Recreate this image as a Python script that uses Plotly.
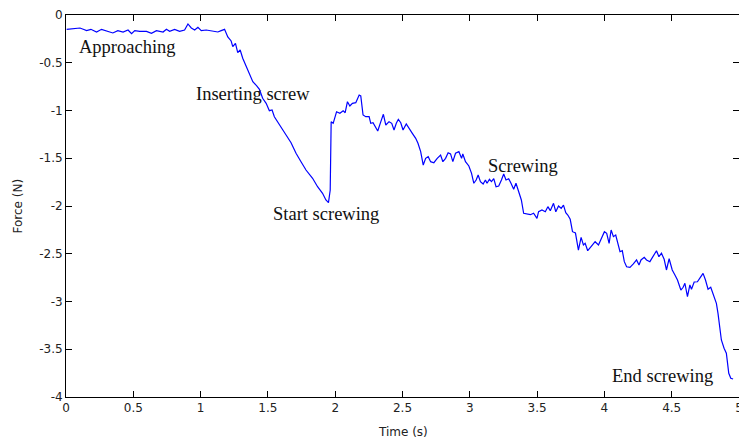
import plotly.graph_objects as go

# Force measured during the screw insertion task
time_s = [
    0.005, 0.044, 0.104, 0.133, 0.153, 0.185, 0.227, 0.264, 0.301, 0.348,
    0.385, 0.424, 0.461, 0.487, 0.511, 0.548, 0.598, 0.635, 0.672, 0.721,
    0.746, 0.770, 0.807, 0.844, 0.881, 0.906, 0.931, 0.956, 0.980, 1.005,
    1.042, 1.091, 1.128, 1.153, 1.178, 1.202, 1.227, 1.239, 1.259, 1.276,
    1.294, 1.313, 1.339, 1.363, 1.388, 1.417, 1.437, 1.461, 1.487, 1.511,
    1.531, 1.548, 1.585, 1.635, 1.672, 1.709, 1.746, 1.783, 1.832, 1.869,
    1.906, 1.931, 1.950, 1.963, 1.970, 1.985, 2.010, 2.035, 2.059, 2.074,
    2.091, 2.109, 2.128, 2.153, 2.178, 2.190, 2.207, 2.227, 2.252, 2.264,
    2.281, 2.301, 2.316, 2.339, 2.358, 2.376, 2.400, 2.420, 2.437, 2.454,
    2.469, 2.487, 2.504, 2.528, 2.553, 2.573, 2.598, 2.615, 2.635, 2.654,
    2.672, 2.691, 2.709, 2.733, 2.758, 2.783, 2.800, 2.820, 2.839, 2.857,
    2.874, 2.894, 2.919, 2.939, 2.948, 2.968, 2.993, 3.013, 3.030, 3.047,
    3.062, 3.079, 3.099, 3.116, 3.128, 3.146, 3.161, 3.178, 3.195, 3.215,
    3.235, 3.252, 3.269, 3.289, 3.306, 3.326, 3.343, 3.363, 3.383, 3.400,
    3.424, 3.450, 3.474, 3.499, 3.511, 3.536, 3.561, 3.580, 3.598, 3.622,
    3.639, 3.659, 3.679, 3.696, 3.713, 3.728, 3.746, 3.763, 3.785, 3.807,
    3.827, 3.844, 3.857, 3.876, 3.901, 3.931, 3.956, 3.980, 4.000, 4.017,
    4.035, 4.050, 4.067, 4.084, 4.099, 4.116, 4.133, 4.148, 4.165, 4.190,
    4.215, 4.239, 4.257, 4.272, 4.296, 4.313, 4.338, 4.363, 4.387, 4.405,
    4.424, 4.444, 4.461, 4.481, 4.504, 4.524, 4.543, 4.568, 4.585, 4.598,
    4.617, 4.635, 4.647, 4.667, 4.691, 4.713, 4.733, 4.751, 4.770, 4.790,
    4.807, 4.832, 4.844, 4.857, 4.869, 4.889, 4.906, 4.924, 4.939, 4.956,
]

force_n = [
    -0.150, -0.147, -0.136, -0.152, -0.164, -0.150, -0.178, -0.150, -0.164, -0.188,
    -0.164, -0.178, -0.157, -0.196, -0.164, -0.171, -0.171, -0.192, -0.164, -0.178,
    -0.150, -0.171, -0.150, -0.171, -0.157, -0.094, -0.136, -0.157, -0.129, -0.164,
    -0.157, -0.171, -0.178, -0.164, -0.150, -0.230, -0.272, -0.332, -0.296, -0.395,
    -0.366, -0.453, -0.541, -0.628, -0.698, -0.743, -0.778, -0.872, -0.925, -1.002,
    -0.995, -1.065, -1.152, -1.257, -1.337, -1.448, -1.536, -1.623, -1.710, -1.798,
    -1.867, -1.937, -1.965, -1.832, -1.117, -1.134, -1.013, -1.029, -1.002, -1.023,
    -0.908, -0.953, -0.925, -0.918, -0.838, -0.848, -1.047, -1.065, -1.065, -1.134,
    -1.128, -1.170, -1.215, -1.117, -1.040, -1.152, -1.117, -1.134, -1.204, -1.134,
    -1.092, -1.128, -1.204, -1.141, -1.204, -1.239, -1.291, -1.343, -1.431, -1.571,
    -1.501, -1.484, -1.536, -1.547, -1.501, -1.466, -1.536, -1.501, -1.442, -1.455,
    -1.536, -1.448, -1.431, -1.501, -1.455, -1.536, -1.581, -1.658, -1.762, -1.728,
    -1.675, -1.745, -1.770, -1.728, -1.762, -1.720, -1.745, -1.714, -1.798, -1.791,
    -1.728, -1.665, -1.728, -1.714, -1.762, -1.825, -1.762, -1.850, -1.937, -2.076,
    -2.084, -2.091, -2.076, -2.129, -2.060, -2.042, -2.060, -2.007, -2.049, -1.972,
    -2.060, -2.000, -2.024, -1.990, -2.070, -2.094, -2.139, -2.269, -2.283, -2.461,
    -2.328, -2.408, -2.391, -2.468, -2.426, -2.374, -2.408, -2.338, -2.269, -2.286,
    -2.391, -2.251, -2.321, -2.304, -2.398, -2.479, -2.468, -2.583, -2.636, -2.642,
    -2.607, -2.565, -2.618, -2.565, -2.537, -2.565, -2.583, -2.524, -2.468, -2.531,
    -2.495, -2.558, -2.670, -2.552, -2.670, -2.723, -2.775, -2.880, -2.851, -2.809,
    -2.950, -2.827, -2.872, -2.796, -2.793, -2.747, -2.705, -2.775, -2.872, -2.851,
    -2.914, -3.019, -3.124, -3.264, -3.403, -3.490, -3.542, -3.752, -3.804, -3.812,
]

# Phase labels: text, time of left edge, force at vertical centre
phase_text = ["Approaching", "Inserting screw", "Start screwing", "Screwing", "End screwing"]
phase_t = [0.085, 0.950, 1.520, 3.117, 4.038]
phase_f = [-0.335, -0.830, -2.085, -1.582, -3.775]

x_ticks = [0, 0.5, 1, 1.5, 2, 2.5, 3, 3.5, 4, 4.5, 5]
x_tick_text = ["0", "0.5", "1", "1.5", "2", "2.5", "3", "3.5", "4", "4.5", "5"]
y_ticks = [0, -0.5, -1, -1.5, -2, -2.5, -3, -3.5, -4]
y_tick_text = ["0", "-0.5", "-1", "-1.5", "-2", "-2.5", "-3", "-3.5", "-4"]

label_font = dict(family="DejaVu Sans", size=12, color="#222222")

fig = go.Figure()
fig.add_trace(go.Scatter(
    x=time_s, y=force_n, mode="lines",
    line=dict(color="#0000ff", width=1.2),
    showlegend=False, hoverinfo="skip",
))

for txt, t, f in zip(phase_text, phase_t, phase_f):
    fig.add_annotation(
        x=t, y=f, text=txt, showarrow=False,
        xanchor="left", yanchor="middle",
        font=dict(family="Liberation Serif", size=18.5, color="#111111"),
    )

# Axis titles placed in paper coordinates so the plot area stays fixed
fig.add_annotation(
    x=0.5, y=-0.092, xref="paper", yref="paper", text="Time (s)",
    showarrow=False, xanchor="center", yanchor="middle", font=label_font,
)
fig.add_annotation(
    x=-0.072, y=0.5, xref="paper", yref="paper", text="Force (N)",
    showarrow=False, xanchor="center", yanchor="middle", textangle=-90,
    font=label_font,
)

axis_common = dict(
    showline=True, linecolor="black", linewidth=1, mirror="ticks",
    ticks="inside", ticklen=6, tickcolor="black", tickwidth=1,
    showgrid=False, zeroline=False, ticklabeloverflow="allow",
    automargin=False, tickfont=label_font,
)

fig.update_xaxes(range=[0, 5], tickvals=x_ticks, ticktext=x_tick_text, **axis_common)
fig.update_yaxes(range=[-4, 0], tickvals=y_ticks, ticktext=y_tick_text, **axis_common)

fig.update_layout(
    width=739, height=439,
    margin=dict(l=66, r=0, t=15, b=42),
    plot_bgcolor="white", paper_bgcolor="white",
)

fig.write_html("out.html")
